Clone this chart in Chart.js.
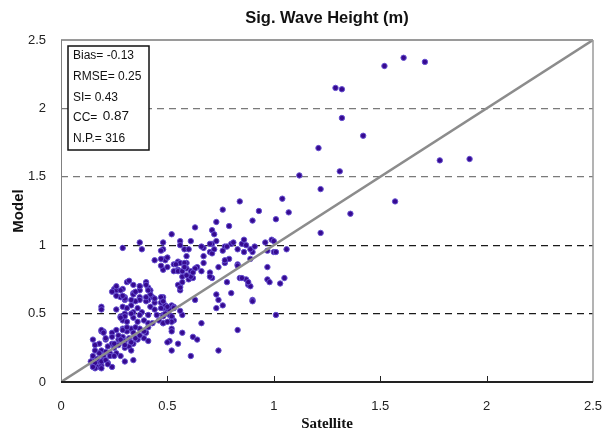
<!DOCTYPE html>
<html>
<head>
<meta charset="utf-8">
<script src="https://cdn.jsdelivr.net/npm/chart.js@4.4.1/dist/chart.umd.min.js"></script>
<style>
  html, body { margin: 0; padding: 0; background: #fff; }
  #wrap { width: 605px; height: 437px; }
</style>
</head>
<body>
<div id="wrap"><canvas id="scatter" width="605" height="437"></canvas></div>
<script>
// Satellite vs model significant wave height (m)
const sigWave = [
  [1.52, 2.31], [1.61, 2.37], [1.71, 2.34], [1.29, 2.15], [1.32, 2.14], [1.32, 1.93], [1.42, 1.80], [1.21, 1.71],
  [1.12, 1.51], [1.31, 1.54], [1.78, 1.62], [1.92, 1.63], [1.22, 1.41], [1.04, 1.34], [0.93, 1.25], [1.07, 1.24],
  [1.01, 1.19], [0.90, 1.18], [1.57, 1.32], [1.36, 1.23], [1.22, 1.09], [0.99, 1.04], [0.84, 1.32], [0.76, 1.26],
  [0.73, 1.17], [0.63, 1.13], [0.79, 1.14], [0.71, 1.11], [0.72, 1.08], [0.52, 1.08],
  [0.96, 1.02], [1.00, 1.03], [0.97, 0.96], [1.00, 0.95], [1.06, 0.97], [0.48, 1.02], [0.56, 1.03], [0.61, 1.03],
  [0.71, 1.01], [0.73, 1.03], [0.77, 0.99], [0.80, 1.01], [0.81, 1.02], [0.85, 1.01], [0.86, 1.04], [0.90, 0.95],
  [0.56, 1.00], [0.58, 0.97], [0.67, 0.98], [0.70, 0.95], [0.71, 0.94], [0.83, 0.97], [0.86, 0.95], [0.48, 0.97],
  [0.66, 0.99], [0.72, 0.97], [0.76, 0.96], [0.78, 0.99], [0.87, 1.00], [0.89, 0.97], [0.91, 0.99], [1.01, 0.95],
  [0.37, 1.02], [0.29, 0.98], [0.38, 0.97], [0.47, 0.96], [0.60, 0.97], [0.70, 1.01],
  [0.49, 0.90], [0.49, 0.89], [0.55, 0.88], [0.56, 0.87], [0.59, 0.87], [0.59, 0.92], [0.55, 0.82], [0.59, 0.83],
  [0.61, 0.81], [0.64, 0.84], [0.66, 0.81], [0.67, 0.92], [0.74, 0.84], [0.77, 0.87], [0.79, 0.90], [0.83, 0.86],
  [0.89, 0.90], [0.70, 0.80], [0.71, 0.76], [0.57, 0.77], [0.62, 0.76], [0.60, 0.75], [0.56, 0.70], [0.56, 0.67],
  [0.78, 0.73], [0.84, 0.76], [0.87, 0.75], [0.88, 0.71], [0.89, 0.70], [0.97, 0.75], [0.48, 0.82], [0.50, 0.84],
  [0.53, 0.86], [0.53, 0.81], [0.44, 0.89], [0.47, 0.90], [0.50, 0.91], [0.47, 0.85], [0.54, 0.86], [0.58, 0.87],
  [0.55, 0.81], [0.57, 0.81], [0.55, 0.71], [0.56, 0.69], [0.31, 0.73], [0.32, 0.74], [0.25, 0.68], [0.26, 0.67],
  [0.29, 0.68], [0.37, 0.70], [0.37, 0.67], [0.40, 0.73], [0.41, 0.69], [0.42, 0.67], [0.34, 0.65], [0.30, 0.62],
  [0.63, 0.83], [0.67, 0.87], [0.70, 0.77], [0.77, 0.89], [0.83, 0.85], [0.85, 0.76], [0.88, 0.73], [0.90, 0.60],
  [0.97, 0.84], [0.98, 0.73], [1.03, 0.72], [1.05, 0.76], [1.01, 0.49], [0.63, 0.60], [0.73, 0.64], [0.74, 0.60],
  [0.73, 0.54], [0.76, 0.56], [0.80, 0.65], [0.90, 0.59], [0.66, 0.43], [0.83, 0.38], [0.62, 0.33], [0.64, 0.31],
  [0.51, 0.30], [0.55, 0.28], [0.52, 0.23], [0.61, 0.19], [0.74, 0.23], [0.57, 0.36], [0.58, 0.84], [0.61, 0.77],
  [0.59, 0.78], [0.62, 0.80], [0.57, 0.73],
  [0.52, 0.39], [0.52, 0.37], [0.57, 0.49], [0.56, 0.52], [0.53, 0.45], [0.48, 0.62], [0.48, 0.58], [0.52, 0.56],
  [0.53, 0.55], [0.50, 0.53], [0.48, 0.49], [0.51, 0.49], [0.52, 0.47], [0.48, 0.43], [0.43, 0.62], [0.44, 0.58],
  [0.47, 0.58], [0.48, 0.54], [0.49, 0.56], [0.51, 0.53], [0.53, 0.54], [0.52, 0.48], [0.52, 0.44], [0.48, 0.48],
  [0.19, 0.55], [0.19, 0.53], [0.28, 0.62], [0.30, 0.60], [0.34, 0.64], [0.37, 0.62], [0.41, 0.60], [0.42, 0.64],
  [0.44, 0.61], [0.47, 0.62], [0.48, 0.59],
  [0.29, 0.55], [0.33, 0.56], [0.36, 0.54], [0.38, 0.51], [0.42, 0.55], [0.44, 0.53], [0.47, 0.54], [0.50, 0.55],
  [0.49, 0.50], [0.45, 0.49], [0.41, 0.49], [0.37, 0.49], [0.34, 0.51], [0.30, 0.50], [0.28, 0.48],
  [0.29, 0.45], [0.31, 0.44], [0.34, 0.47], [0.36, 0.44], [0.39, 0.45], [0.41, 0.43], [0.43, 0.43], [0.46, 0.45],
  [0.48, 0.43], [0.50, 0.44],
  [0.19, 0.37], [0.20, 0.37], [0.24, 0.36], [0.26, 0.38], [0.29, 0.39], [0.31, 0.37], [0.33, 0.39], [0.34, 0.36],
  [0.37, 0.39], [0.41, 0.40], [0.40, 0.36],
  [0.15, 0.31], [0.18, 0.28], [0.21, 0.31], [0.24, 0.28], [0.27, 0.31], [0.29, 0.33], [0.30, 0.30], [0.32, 0.32],
  [0.34, 0.28], [0.36, 0.31], [0.39, 0.32], [0.41, 0.30], [0.50, 0.29],
  [0.22, 0.26], [0.25, 0.25], [0.27, 0.27], [0.30, 0.25], [0.32, 0.26], [0.33, 0.23],
  [0.19, 0.23], [0.21, 0.22], [0.23, 0.21], [0.26, 0.21], [0.20, 0.19], [0.23, 0.19], [0.25, 0.19],
  [0.15, 0.16], [0.18, 0.15], [0.20, 0.16], [0.15, 0.12], [0.17, 0.11], [0.19, 0.12], [0.16, 0.10], [0.19, 0.10],
  [0.22, 0.14], [0.24, 0.11], [0.28, 0.19], [0.30, 0.15], [0.34, 0.16],
  [0.26, 0.70], [0.28, 0.67], [0.24, 0.66], [0.34, 0.71], [0.35, 0.66], [0.37, 0.70], [0.40, 0.71], [0.41, 0.67],
  [0.40, 0.59], [0.40, 0.62], [0.37, 0.60], [0.35, 0.59], [0.33, 0.60], [0.30, 0.61], [0.29, 0.63], [0.26, 0.63],
  [0.31, 0.54], [0.30, 0.48], [0.33, 0.50], [0.26, 0.53], [0.28, 0.47],
  [0.19, 0.38], [0.20, 0.36], [0.16, 0.27], [0.21, 0.32], [0.24, 0.33], [0.27, 0.34], [0.25, 0.28], [0.28, 0.31],
  [0.30, 0.27], [0.33, 0.29], [0.35, 0.32], [0.37, 0.34], [0.39, 0.37], [0.29, 0.38], [0.31, 0.40], [0.35, 0.40],
  [0.16, 0.23], [0.18, 0.21], [0.15, 0.19], [0.17, 0.17], [0.14, 0.15], [0.16, 0.14], [0.19, 0.15], [0.21, 0.16],
  [0.22, 0.13], [0.15, 0.11],
];

// 1:1 reference line end points
const perfectFit = [0, 2.5];

const axisTicks = [0, 0.5, 1, 1.5, 2, 2.5];

const statNames = ['Bias= ', 'RMSE= ', 'SI= ', 'CC= ', 'N.P.= '];
const statValues = ['-0.13', '0.25', '0.43', '0.87', '316'];

const CHART_TITLE = 'Sig. Wave Height (m)';

// dark dashes for 0.5 / 1, lighter ones above
function gridColor(ctx) {
  const v = ctx.tick && ctx.tick.value;
  if (v === 0.5 || v === 1) return '#1a1a1a';
  if (v === 1.5 || v === 2) return '#7a7a7a';
  return 'rgba(0,0,0,0)';
}

const framePlugin = {
  id: 'frame',
  afterDraw(chart) {
    const { ctx, chartArea: a, scales } = chart;
    ctx.save();
    // frame: grey top / right / left, dark bottom
    ctx.lineCap = 'butt';
    ctx.strokeStyle = '#9a9a9a';
    ctx.lineWidth = 2;
    ctx.beginPath(); ctx.moveTo(a.left, a.top); ctx.lineTo(a.right, a.top); ctx.stroke();
    ctx.lineWidth = 1.5;
    ctx.beginPath(); ctx.moveTo(a.right, a.top); ctx.lineTo(a.right, a.bottom); ctx.stroke();
    ctx.strokeStyle = '#808080';
    ctx.lineWidth = 1;
    ctx.beginPath(); ctx.moveTo(a.left + 0.5, a.top); ctx.lineTo(a.left + 0.5, a.bottom); ctx.stroke();
    ctx.strokeStyle = '#222';
    ctx.lineWidth = 2;
    ctx.beginPath(); ctx.moveTo(a.left, a.bottom); ctx.lineTo(a.right, a.bottom); ctx.stroke();

    // inward tick marks on the x axis
    ctx.lineWidth = 1;
    axisTicks.slice(1, -1).forEach(v => {
      const x = Math.round(scales.x.getPixelForValue(v)) + 0.5;
      ctx.beginPath(); ctx.moveTo(x, a.bottom); ctx.lineTo(x, a.bottom - 6); ctx.stroke();
    });

    // title
    ctx.fillStyle = '#111';
    ctx.font = 'bold 16.5px "Liberation Sans", Arial, sans-serif';
    ctx.textAlign = 'center';
    ctx.textBaseline = 'middle';
    ctx.fillText(CHART_TITLE, 327, 18);

    // statistics box
    const bx = 68, by = 46, bw = 81, bh = 104;
    ctx.fillStyle = '#fff';
    ctx.fillRect(bx, by, bw, bh);
    ctx.strokeStyle = '#111';
    ctx.lineWidth = 1.5;
    ctx.strokeRect(bx, by, bw, bh);
    ctx.fillStyle = '#111';
    ctx.textAlign = 'left';
    statNames.forEach((name, i) => {
      const y = by + 10 + i * 20.7;
      ctx.font = '12px "Liberation Sans", Arial, sans-serif';
      ctx.fillText(name, bx + 5, y);
      const w = ctx.measureText(name).width;
      if (i === 3) {
        ctx.font = '13.5px "Liberation Sans", Arial, sans-serif';
        ctx.fillText(statValues[i], bx + 5 + w + 2, y - 2);
      } else {
        ctx.fillText(statValues[i], bx + 5 + w, y);
      }
    });
    ctx.restore();
  }
};

new Chart(document.getElementById('scatter'), {
  type: 'scatter',
  data: {
    datasets: [
      {
        label: '1:1',
        type: 'line',
        data: perfectFit.map(v => ({ x: v, y: v })),
        borderColor: '#8c8c8c',
        borderWidth: 2.5,
        pointRadius: 0,
        fill: false,
        order: 0,
      },
      {
        label: 'Hs',
        data: sigWave.map(([x, y]) => ({ x, y })),
        backgroundColor: '#360a90',
        borderColor: '#6650d0',
        borderWidth: 1,
        pointRadius: 2.7,
        order: 1,
      },
    ],
  },
  options: {
    responsive: false,
    animation: false,
    events: [],
    layout: { padding: { left: 0, right: 12, top: 40, bottom: 0 } },
    plugins: {
      legend: { display: false },
      tooltip: { enabled: false },
    },
    scales: {
      x: {
        type: 'linear',
        min: 0,
        max: 2.5,
        afterBuildTicks: (s) => { s.ticks = axisTicks.map(v => ({ value: v })); },
        afterFit: (s) => { s.height = 55; s.paddingRight = 0; s.paddingLeft = 0; },
        grid: { display: false, drawTicks: false },
        border: { display: false },
        ticks: {
          padding: 17,
          color: '#222',
          font: { family: '"Liberation Sans", Arial, sans-serif', size: 13 },
          maxRotation: 0,
          callback: (v) => String(v),
        },
        title: {
          display: true,
          text: 'Satellite',
          color: '#111',
          font: { family: '"Liberation Serif", "Times New Roman", serif', size: 15, weight: 'bold' },
          padding: { top: 0, bottom: 4 },
        },
      },
      y: {
        type: 'linear',
        min: 0,
        max: 2.5,
        afterBuildTicks: (s) => { s.ticks = axisTicks.map(v => ({ value: v })); },
        afterFit: (s) => { s.width = 61; },
        grid: { color: gridColor, lineWidth: 1.2, drawTicks: false },
        border: { display: false, dash: [7, 5] },
        ticks: {
          padding: 15,
          color: '#222',
          font: { family: '"Liberation Sans", Arial, sans-serif', size: 13 },
          callback: (v) => String(v),
        },
        title: {
          display: true,
          text: 'Model',
          color: '#111',
          font: { family: '"Liberation Sans", Arial, sans-serif', size: 15, weight: 'bold' },
          padding: { top: 10, bottom: 0 },
        },
      },
    },
  },
  plugins: [framePlugin],
});
</script>
</body>
</html>
